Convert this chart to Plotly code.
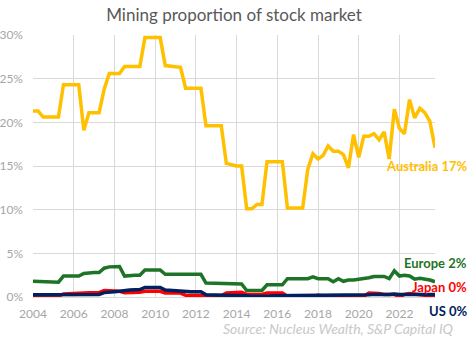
import plotly.graph_objects as go

# Quarterly observations, 2004 Q1 .. 2023 Q4 (share of market, %)
years = list(range(2004, 2024))
months = ["01", "04", "07", "10"]
dates = [f"{y}-{m}-01" for y in years for m in months]

australia = [
    21.3, 21.3, 20.6, 20.6,
    20.6, 20.6, 24.3, 24.3,
    24.3, 24.3, 19.1, 21.1,
    21.1, 21.1, 23.8, 25.6,
    25.6, 25.6, 26.4, 26.4,
    26.4, 26.4, 29.7, 29.7,
    29.7, 29.7, 26.5, 26.4,
    26.4, 26.3, 23.9, 23.9,
    23.9, 23.9, 19.6, 19.6,
    19.6, 19.6, 15.3, 15.1,
    15.0, 15.0, 10.1, 10.1,
    10.6, 10.6, 15.5, 15.5,
    15.5, 15.5, 10.2, 10.2,
    10.2, 10.2, 14.6, 16.4,
    15.8, 16.2, 17.3, 16.7,
    16.7, 16.3, 14.8, 18.6,
    16.0, 18.4, 18.4, 18.7,
    18.0, 18.9, 15.8, 21.5,
    19.3, 18.7, 22.6, 20.5,
    21.6, 21.1, 20.1, 17.1,
]

europe = [
    1.8, 1.8, 1.7, 1.7,
    1.7, 1.7, 2.4, 2.4,
    2.4, 2.4, 2.7, 2.8,
    2.8, 2.8, 3.3, 3.45,
    3.5, 3.5, 2.4, 2.5,
    2.5, 2.5, 3.1, 3.1,
    3.1, 3.1, 2.6, 2.6,
    2.7, 2.7, 2.6, 2.6,
    2.6, 2.6, 1.6, 1.6,
    1.6, 1.6, 1.5, 1.5,
    1.5, 1.5, 0.75, 0.75,
    0.75, 0.75, 1.4, 1.4,
    1.4, 1.4, 2.1, 2.1,
    2.1, 2.1, 2.1, 2.3,
    2.1, 2.1, 2.1, 1.75,
    2.1, 1.8, 1.95, 1.95,
    2.0, 2.05, 2.2, 2.35,
    2.35, 2.35, 2.1, 3.0,
    2.4, 2.5, 2.4, 2.05,
    2.15, 2.1, 1.95, 1.75,
]

japan = [
    0.2, 0.1, 0.05, 0.05,
    0.05, 0.1, 0.35, 0.4,
    0.4, 0.4, 0.45, 0.5,
    0.5, 0.5, 0.75, 0.75,
    0.7, 0.65, 0.5, 0.5,
    0.5, 0.55, 0.65, 0.65,
    0.65, 0.65, 0.45, 0.45,
    0.45, 0.45, 0.2, 0.2,
    0.2, 0.2, 0.12, 0.12,
    0.12, 0.15, 0.45, 0.5,
    0.55, 0.55, 0.3, 0.3,
    0.3, 0.3, 0.45, 0.45,
    0.45, 0.45, 0.1, 0.1,
    0.1, 0.1, 0.1, 0.1,
    0.2, 0.1, 0.05, 0.05,
    0.05, 0.05, 0.05, 0.05,
    0.1, 0.1, 0.45, 0.45,
    0.4, 0.3, 0.3, 0.3,
    0.0, 0.3, 0.4, 0.3,
    0.2, 0.2, 0.2, 0.2,
]

us = [
    0.25, 0.25, 0.25, 0.25,
    0.25, 0.25, 0.25, 0.25,
    0.3, 0.3, 0.3, 0.3,
    0.3, 0.3, 0.5, 0.6,
    0.6, 0.65, 0.75, 0.8,
    0.82, 0.85, 1.1, 1.1,
    1.1, 1.1, 0.8, 0.75,
    0.72, 0.72, 0.6, 0.6,
    0.6, 0.6, 0.25, 0.25,
    0.25, 0.25, 0.25, 0.25,
    0.22, 0.2, 0.15, 0.1,
    0.08, 0.06, 0.1, 0.15,
    0.15, 0.15, 0.15, 0.15,
    0.15, 0.15, 0.18, 0.2,
    0.25, 0.2, 0.2, 0.15,
    0.15, 0.15, 0.2, 0.2,
    0.25, 0.25, 0.25, 0.3,
    0.35, 0.3, 0.3, 0.35,
    0.3, 0.3, 0.3, 0.35,
    0.3, 0.3, 0.3, 0.3,
]

series_names = ["Australia", "Europe", "Japan", "US"]
series_values = [australia, europe, japan, us]
series_colors = ["#FFC000", "#1E7426", "#FF0000", "#002060"]
label_texts = ["Australia 17%", "Europe 2%", "Japan 0%", "US 0%"]
label_y = [0.50, 0.1286, 0.0393, -0.0523]

y_ticks = [0, 5, 10, 15, 20, 25, 30]
y_tick_text = [f"{v}%" for v in y_ticks]
title_text = "Mining proportion of stock market"
source_text = "Source: Nucleus Wealth, S&P Capital IQ"

FONT = "Lato"
fig = go.Figure()
for name, vals, col in zip(series_names, series_values, series_colors):
    fig.add_trace(go.Scatter(
        x=dates, y=vals, mode="lines", name=name,
        line=dict(color=col, width=3.5), hoverinfo="skip",
    ))

for txt, yy, col in zip(label_texts, label_y, series_colors):
    fig.add_annotation(
        text=f"<b>{txt}</b>", xref="paper", yref="paper",
        x=1.0846, y=yy, xanchor="right", yanchor="middle", showarrow=False,
        font=dict(family=FONT, size=13, color=col),
    )

fig.add_annotation(
    text=f"<i>{source_text}</i>", xref="paper", yref="paper",
    x=1.0506, y=-0.1195, xanchor="right", yanchor="middle", showarrow=False,
    font=dict(family=FONT, size=14, color="#C8C8C8"),
)

fig.update_layout(
    width=473, height=338,
    margin=dict(l=33, r=38, t=35, b=41, autoexpand=False),
    paper_bgcolor="white", plot_bgcolor="white",
    showlegend=False,
    title=dict(text=title_text, x=0.5, xref="paper", xanchor="center",
               y=1 - 15 / 338, yanchor="middle",
               font=dict(family=FONT, size=17, color="#595959")),
    font=dict(family=FONT, size=12, color="#A6A6A6"),
)
fig.update_xaxes(
    type="date", range=["2004-01-01", "2023-10-01"],
    tick0="2004-01-01", dtick="M24", tickformat="%Y",
    showgrid=True, gridcolor="#D9D9D9", gridwidth=1,
    showline=True, linecolor="#D9D9D9", linewidth=1,
    zeroline=False, ticks="", ticklabelstandoff=6, automargin=False,
    tickfont=dict(family=FONT, size=12, color="#A6A6A6"),
)
fig.update_yaxes(
    range=[0, 30], tickmode="array", tickvals=y_ticks, ticktext=y_tick_text,
    showgrid=True, gridcolor="#D9D9D9", gridwidth=1,
    zeroline=False, showline=False, ticks="", ticklabelstandoff=9,
    automargin=False,
    tickfont=dict(family=FONT, size=12, color="#A6A6A6"),
)

fig.write_html("out.html")
